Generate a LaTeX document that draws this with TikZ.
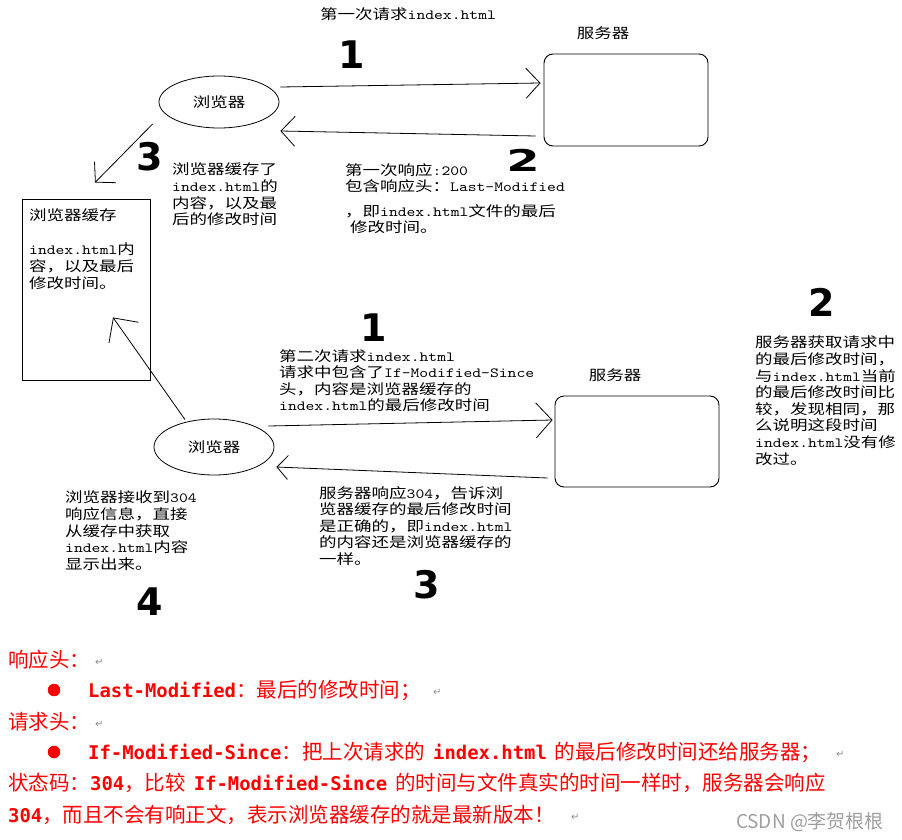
\documentclass[tikz,border=0pt]{standalone}
\usepackage{fontspec}
\usetikzlibrary{arrows.meta,shapes.geometric}
\setmainfont{Noto Sans CJK SC}
\newfontfamily\cjkw[FakeStretch=1.25]{Noto Sans CJK SC}
\newfontfamily\monow[FakeStretch=1.2]{lmmono10-regular.otf}
\newfontfamily\bmono{DejaVu Sans Mono}
\newfontfamily\djv{DejaVu Sans}
\newcommand\aw[1]{{\monow #1}}
\newcommand\bmt[1]{{\bmono\bfseries\fontsize{18.9}{24}\selectfont #1}}
\newcommand\ret{{\djv\fontsize{10}{12}\selectfont\color{black!45}↵}}
\tikzset{
  diag/.style={font=\cjkw\fontsize{14}{16.6}\selectfont, inner sep=0pt, align=left, anchor=north west},
  browser/.style={draw, ellipse, line width=0.8pt, inner sep=0pt, font=\cjkw\fontsize{14}{16.6}\selectfont},
  serverbox/.style={draw, rectangle, rounded corners=9pt, line width=0.9pt},
  cachebox/.style={draw, rectangle, line width=0.9pt},
  conn/.style={line width=0.8pt, -{Straight Barb[length=14pt,width=30pt,line width=0.8pt]}},
  scrib/.style={font=\djv\bfseries\fontsize{38}{40}\selectfont, inner sep=0pt},
  redline/.style={font=\fontsize{20.5}{24}\selectfont, text=red, inner sep=0pt, anchor=west},
  bul/.style={circle, fill=red, minimum size=12.5pt, inner sep=0pt},
  retmark/.style={inner sep=0pt, anchor=west}
}
\begin{document}
\begin{tikzpicture}[x=1pt,y=-1pt]
\useasboundingbox (0,0) rectangle (902,840);
% shapes
\node[browser, minimum width=120pt, minimum height=52pt] (b1) at (219,102) {浏览器};
\node[serverbox, minimum width=164pt, minimum height=92pt] (s1) at (626,100) {};
\node[diag, anchor=center] (s1lab) at (603,33) {服务器};
\node[cachebox, minimum width=128pt, minimum height=181pt] (cache) at (86,289.5) {};
\node[browser, minimum width=120pt, minimum height=56pt] (b2) at (214,447) {浏览器};
\node[serverbox, minimum width=164pt, minimum height=91pt] (s2) at (637,441.5) {};
\node[diag, anchor=center] (s2lab) at (615,375) {服务器};
% connectors
\draw[conn] ([shift={(1,-15)}]b1.east) -- ([shift={(-3,-17)}]s1.west);
\draw[conn] ([shift={(-8,36)}]s1.west) -- ([shift={(1,29)}]b1.east);
\draw[conn] ([shift={(-6,22)}]b1.west) -- ([shift={(9,-16)}]cache.north);
\draw[conn, -{Straight Barb[length=18pt,width=36pt,line width=0.8pt]}] ([shift={(-29,1)}]b2.north) -- ([shift={(27,-63)}]cache.south);
\draw[conn, -{Straight Barb[length=16pt,width=35pt,line width=0.8pt]}] ([shift={(-6,-21)}]b2.east) -- ([shift={(-2,-21.5)}]s2.west);
\draw[conn, -{Straight Barb[length=11pt,width=24pt,line width=0.8pt]}] ([shift={(-7,36.5)}]s2.west) -- ([shift={(2,20)}]b2.east);
% texts
\node[diag] (t1) at (320,7) {第一次请求\aw{index.html}};
\node[diag] (c1) at (172,163) {浏览器缓存了\\\aw{index.html}的\\内容，以及最\\后的修改时间};
\node[diag] (r1) at (345,163) {第一次响应\aw{:200}\\包含响应头：\aw{Last-Modified}};
\node[diag] (r1b) at (345,204) {，即\aw{index.html}文件的最后\\\hspace*{5pt}修改时间。};
\node[diag] (ct1) at (29,209) {浏览器缓存};
\node[diag] (ct2) at (29,243) {\aw{index.html}内\\容，以及最后\\修改时间。};
\node[diag] (q2) at (279,349) {第二次请求\aw{index.html}\\请求中包含了\aw{If-Modified-Since}\\头，内容是浏览器缓存的\\\aw{index.html}的最后修改时间};
\node[diag] (sv) at (755,336) {服务器获取请求中\\的最后修改时间，\\与\aw{index.html}当前\\的最后修改时间比\\较，发现相同，那\\么说明这段时间\\\aw{index.html}没有修\\改过。};
\node[diag] (rs) at (319,486) {服务器响应\aw{304}，告诉浏\\览器缓存的最后修改时间\\是正确的，即\aw{index.html}\\的内容还是浏览器缓存的\\一样。};
\node[diag] (rv) at (65,491) {浏览器接收到\aw{304}\\响应信息，直接\\从缓存中获取\\\aw{index.html}内容\\显示出来。};
% hand-drawn step numbers
\node[scrib] (n1a) at (352,55) {1};
\node[scrib, font=\djv\bfseries\fontsize{30}{32}\selectfont, xscale=1.6] (n2a) at (523,160) {2};
\node[scrib] (n3a) at (150,157) {3};
\node[scrib] (n1b) at (374,328) {1};
\node[scrib] (n2b) at (822,302) {2};
\node[scrib] (n3b) at (427,585) {3};
\node[scrib] (n4) at (150,602) {4};
% bottom notes
\node[redline] (L1) at (8,660) {响应头：};
\node[retmark] (R1) at (95,662) {\ret};
\node[bul] (B1) at (54,690) {};
\node[redline] (L2) at (88,690) {\bmt{Last-Modified}：最后的修改时间；};
\node[retmark] (R2) at (433,692) {\ret};
\node[redline] (L3) at (8,722) {请求头：};
\node[retmark] (R3) at (95,724) {\ret};
\node[bul] (B2) at (54,752) {};
\node[redline] (L4) at (88,752) {\bmt{If-Modified-Since}：把上次请求的\hspace{8pt}\bmt{index.html}\hspace{8pt}的最后修改时间还给服务器；};
\node[retmark] (R4) at (836,754) {\ret};
\node[redline] (L5) at (8,783) {状态码：\bmt{304}，比较\hspace{8pt}\bmt{If-Modified-Since}\hspace{8pt}的时间与文件真实的时间一样时，服务器会响应};
\node[redline] (L6) at (8,815) {\bmt{304}，而且不会有响正文，表示浏览器缓存的就是最新版本！};
\node[retmark] (R6) at (571,817) {\ret};
\node[inner sep=0pt, text=black!38, font=\fontsize{19}{22}\selectfont] (wm) at (810,822) {CSDN @李贺根根};
\end{tikzpicture}
\end{document}
